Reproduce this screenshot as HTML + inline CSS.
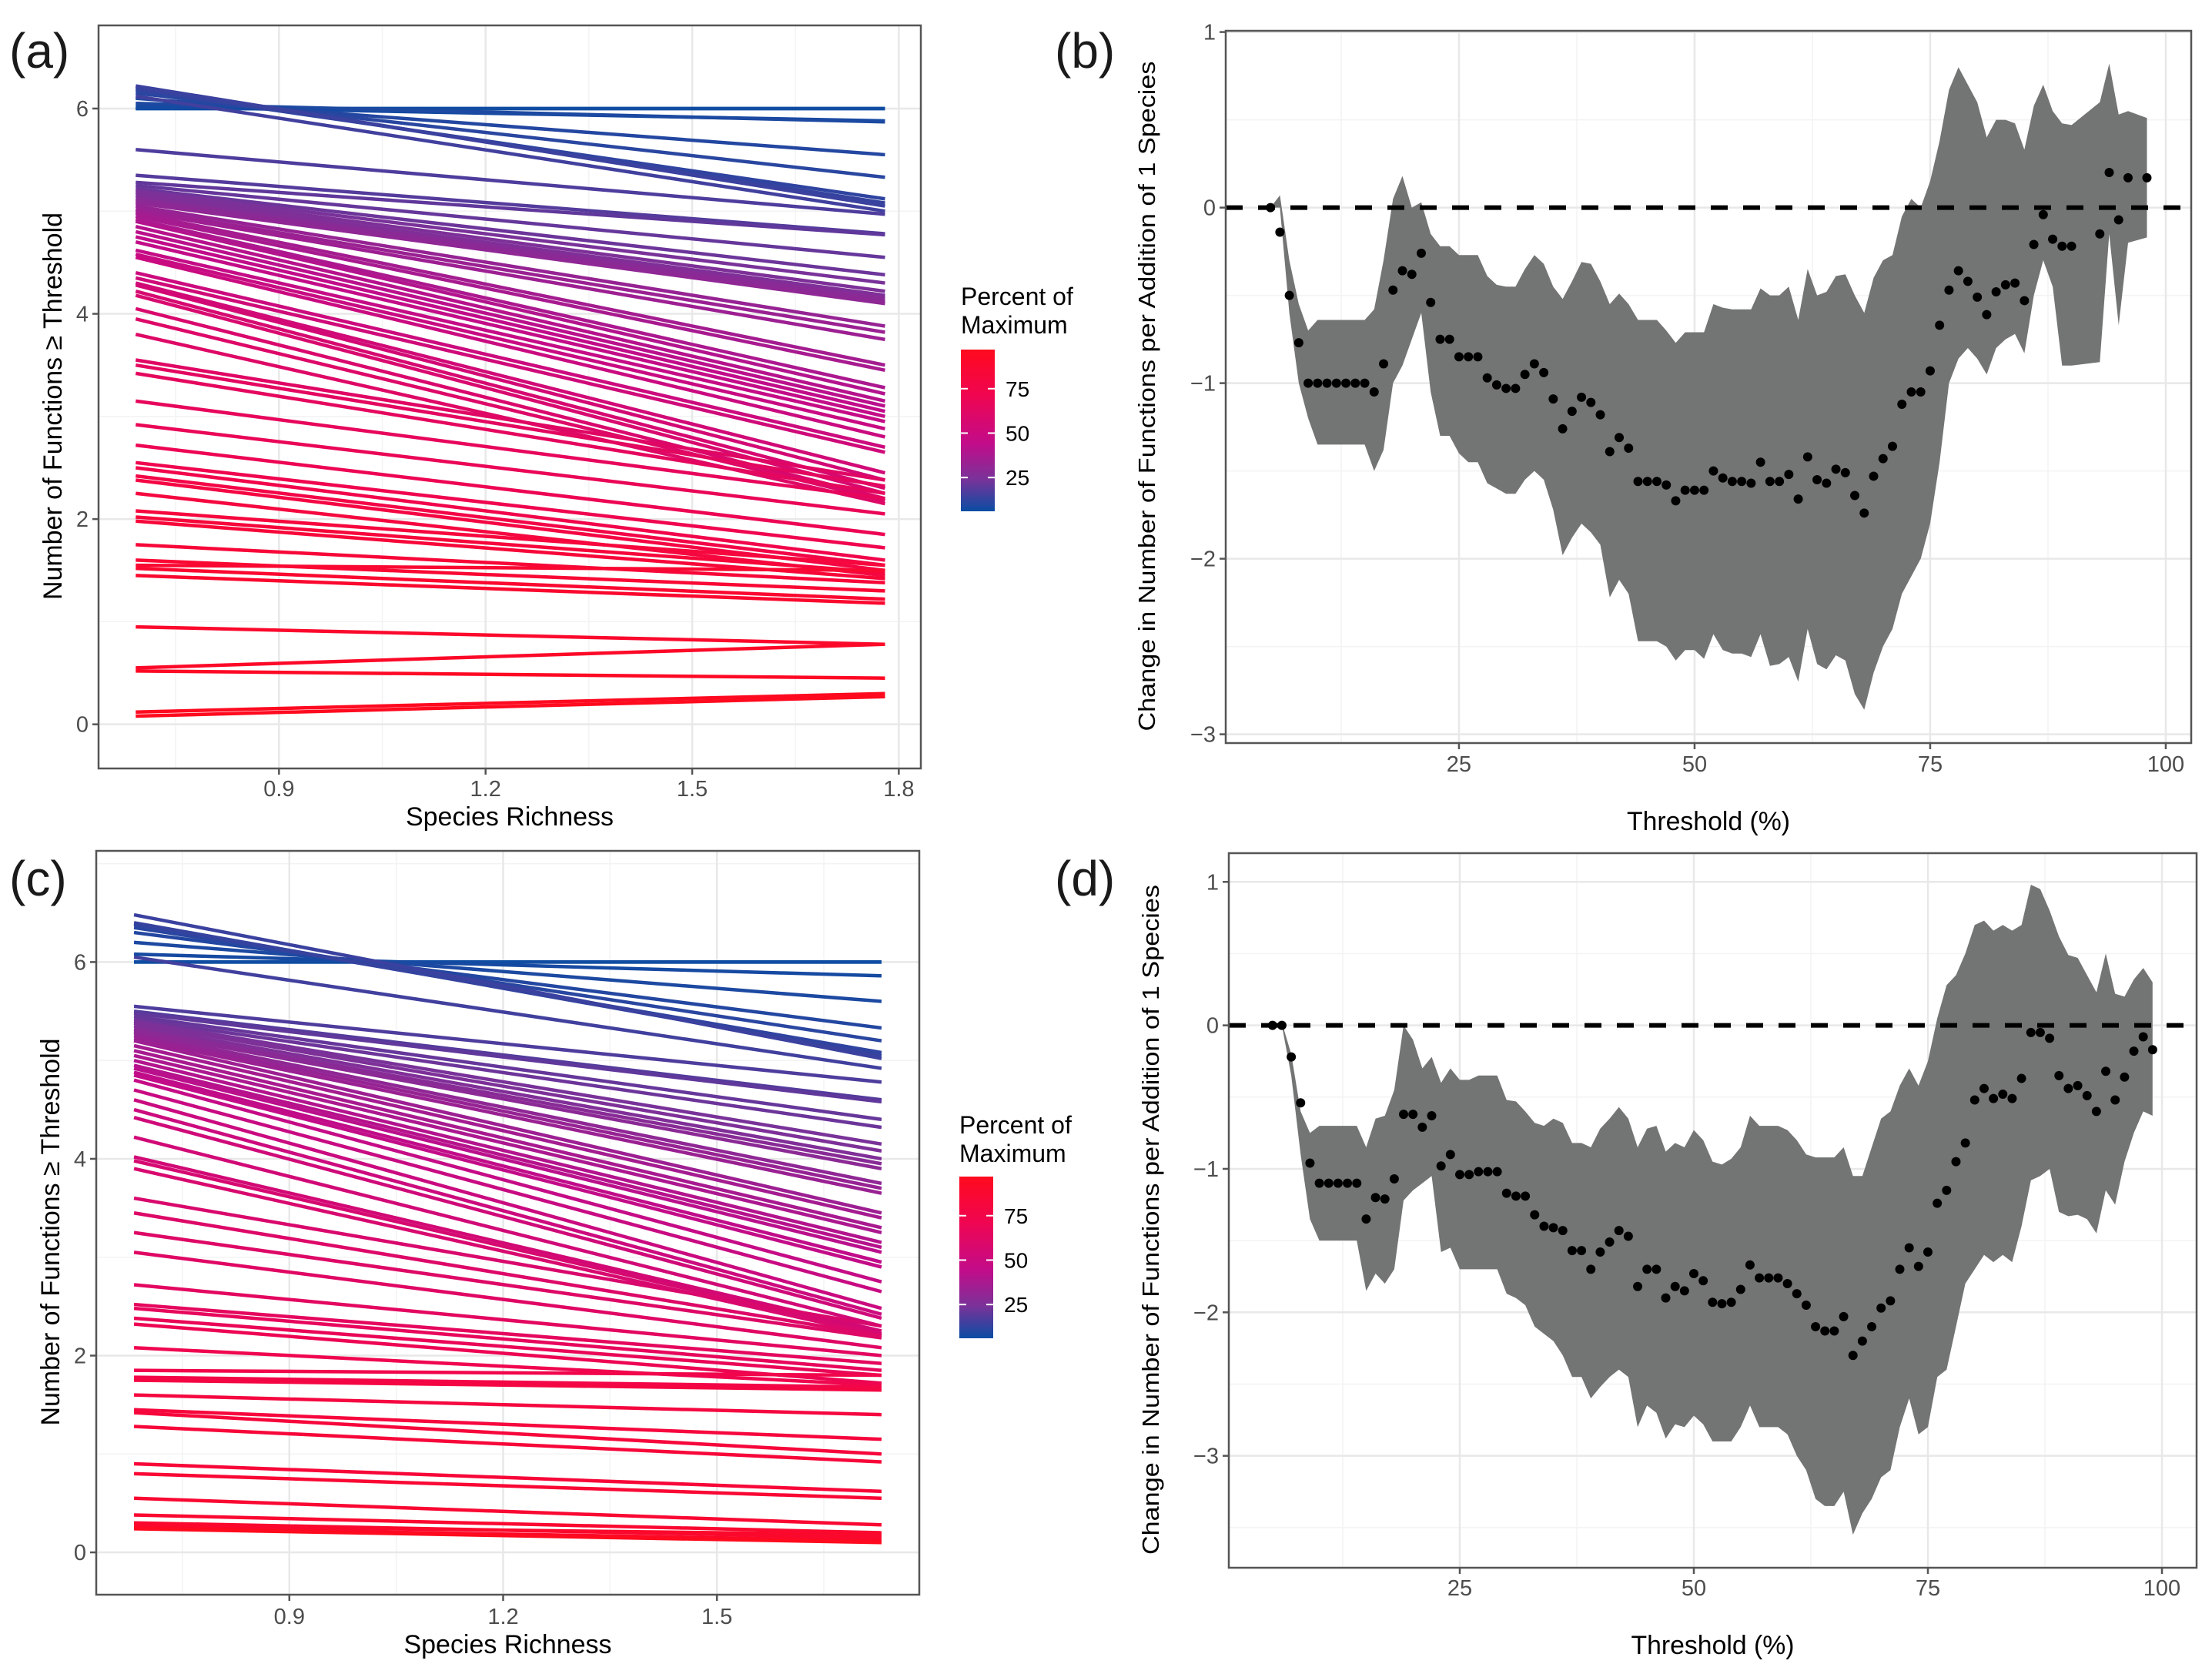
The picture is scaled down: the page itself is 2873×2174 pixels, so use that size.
<!DOCTYPE html>
<html><head><meta charset="utf-8"><style>
html,body{margin:0;padding:0;background:#fff;}
svg{display:block;font-family:"Liberation Sans",Arial,sans-serif;}
</style></head><body>
<svg id="fig" width="2873" height="2174" viewBox="0 0 2873 2174" xmlns="http://www.w3.org/2000/svg">
<defs>
<linearGradient id="cbar" x1="0" y1="1" x2="0" y2="0">
<stop offset="0" stop-color="#0A4DA3"/><stop offset="0.2" stop-color="#7A3299"/><stop offset="0.42" stop-color="#C20C8A"/><stop offset="0.72" stop-color="#F00550"/><stop offset="1" stop-color="#FF0A1E"/>
</linearGradient>
</defs>
</svg>
<script>
// ---------- Panel (a) data ----------
const aStart = [6.00,6.00,6.02,6.05,6.10,6.15,6.18,6.20,6.22,6.12,5.60,5.35,5.28,5.25,5.22,5.20,5.18,5.15,5.12,5.10,5.08,5.05,5.02,5.00,4.98,4.95,4.92,4.90,4.85,4.80,4.75,4.70,4.62,4.58,4.55,4.40,4.35,4.30,4.28,4.22,4.18,4.05,3.95,3.80,3.55,3.50,3.42,3.15,2.92,2.72,2.55,2.50,2.42,2.38,2.25,2.08,2.02,1.98,1.75,1.60,1.55,1.52,1.45,0.95,0.55,0.52,0.12,0.08];
const aEnd = [6.00,6.00,5.88,5.87,5.55,5.33,5.12,5.08,5.05,5.00,4.97,4.78,4.77,4.55,4.38,4.30,4.22,4.18,4.15,4.12,4.10,3.88,3.82,3.75,3.50,3.45,3.28,3.22,3.15,3.10,3.05,3.00,2.95,2.88,2.80,2.70,2.65,2.45,2.38,2.30,2.25,2.20,2.18,2.15,2.38,2.32,2.25,2.20,2.05,1.85,1.72,1.60,1.55,1.50,1.45,1.55,1.48,1.42,1.38,1.30,1.50,1.22,1.18,0.78,0.78,0.45,0.30,0.27];
const aPct = [6,7,8,9,10,11,12,13,14,15,17,18,20,21,22,24,25,26,28,29,30,32,33,34,36,37,38,40,41,42,44,45,46,48,49,50,52,53,54,56,57,58,60,61,62,64,65,66,68,70,72,74,76,78,80,81,82,83,84,86,87,88,89,90,92,94,96,97];
// ---------- Panel (c) data ----------
const cStart = [6.00,6.00,6.08,6.20,6.30,6.35,6.38,6.40,6.48,6.05,5.55,5.50,5.48,5.45,5.42,5.40,5.38,5.35,5.32,5.30,5.28,5.25,5.22,5.20,5.15,5.10,5.05,5.00,4.95,4.92,4.88,4.85,4.80,4.70,4.60,4.50,4.42,4.22,4.02,3.98,3.90,3.60,3.45,3.25,3.05,2.72,2.52,2.48,2.38,2.32,2.08,1.85,1.78,1.75,1.60,1.45,1.42,1.28,0.90,0.80,0.55,0.38,0.30,0.27,0.25,0.24];
const cEnd = [6.00,6.00,5.86,5.60,5.33,5.20,5.08,5.05,5.02,4.92,4.78,4.60,4.58,4.40,4.32,4.15,4.08,4.00,3.95,3.90,3.75,3.70,3.65,3.45,3.40,3.30,3.25,3.15,3.10,3.05,2.95,2.90,2.75,2.65,2.48,2.42,2.38,2.30,2.25,2.22,2.20,2.30,2.20,2.18,2.08,2.00,1.92,1.85,1.80,1.72,1.70,1.80,1.68,1.65,1.40,1.15,1.00,0.92,0.62,0.55,0.28,0.20,0.15,0.18,0.12,0.10];
const cPct = [6,7,8,9,10,11,12,13,14,15,17,18,20,21,22,24,25,26,28,29,30,32,33,34,36,37,38,40,41,42,44,45,46,48,49,50,52,53,54,56,57,58,60,61,62,64,65,66,68,70,72,74,76,78,80,81,82,83,84,86,87,88,89,90,92,97];
// ---------- Panel (b) data ----------
const bThr = [5,6,7,8,9,10,11,12,13,14,15,16,17,18,19,20,21,22,23,24,25,26,27,28,29,30,31,32,33,34,35,36,37,38,39,40,41,42,43,44,45,46,47,48,49,50,51,52,53,54,55,56,57,58,59,60,61,62,63,64,65,66,67,68,69,70,71,72,73,74,75,76,77,78,79,80,81,82,83,84,85,86,87,88,89,90,93,94,95,96,98];
const bMean = [0,-0.14,-0.50,-0.77,-1.0,-1.0,-1.0,-1.0,-1.0,-1.0,-1.0,-1.05,-0.89,-0.47,-0.36,-0.38,-0.26,-0.54,-0.75,-0.75,-0.85,-0.85,-0.85,-0.97,-1.01,-1.03,-1.03,-0.95,-0.89,-0.94,-1.09,-1.26,-1.16,-1.08,-1.11,-1.18,-1.39,-1.31,-1.37,-1.56,-1.56,-1.56,-1.58,-1.67,-1.61,-1.61,-1.61,-1.50,-1.54,-1.56,-1.56,-1.57,-1.45,-1.56,-1.56,-1.52,-1.66,-1.42,-1.55,-1.57,-1.49,-1.51,-1.64,-1.74,-1.53,-1.43,-1.36,-1.12,-1.05,-1.05,-0.93,-0.67,-0.47,-0.36,-0.42,-0.51,-0.61,-0.48,-0.44,-0.43,-0.53,-0.21,-0.04,-0.18,-0.22,-0.22,-0.15,0.20,-0.07,0.17,0.17];
const bHi = [0,0.07,-0.30,-0.55,-0.70,-0.64,-0.64,-0.64,-0.64,-0.64,-0.64,-0.58,-0.30,0.05,0.18,0.0,0.03,-0.15,-0.22,-0.22,-0.27,-0.27,-0.27,-0.39,-0.44,-0.45,-0.45,-0.35,-0.27,-0.32,-0.45,-0.52,-0.42,-0.31,-0.32,-0.42,-0.55,-0.49,-0.55,-0.64,-0.64,-0.64,-0.70,-0.77,-0.71,-0.71,-0.71,-0.55,-0.57,-0.58,-0.58,-0.58,-0.46,-0.50,-0.50,-0.45,-0.64,-0.35,-0.50,-0.48,-0.39,-0.38,-0.50,-0.60,-0.40,-0.30,-0.27,-0.05,0.05,0.0,0.15,0.38,0.67,0.80,0.70,0.60,0.40,0.50,0.50,0.48,0.33,0.58,0.70,0.55,0.48,0.47,0.60,0.82,0.53,0.55,0.51];
const bLo = [0,0.0,-0.60,-1.00,-1.20,-1.35,-1.35,-1.35,-1.35,-1.35,-1.35,-1.50,-1.38,-1.00,-0.90,-0.75,-0.60,-1.05,-1.30,-1.30,-1.40,-1.45,-1.45,-1.57,-1.60,-1.63,-1.63,-1.55,-1.50,-1.55,-1.72,-1.98,-1.88,-1.80,-1.85,-1.92,-2.22,-2.12,-2.20,-2.47,-2.47,-2.47,-2.50,-2.58,-2.52,-2.52,-2.57,-2.43,-2.52,-2.54,-2.54,-2.56,-2.43,-2.61,-2.60,-2.56,-2.70,-2.40,-2.60,-2.63,-2.55,-2.58,-2.77,-2.86,-2.65,-2.50,-2.40,-2.20,-2.10,-2.00,-1.80,-1.45,-1.00,-0.86,-0.80,-0.86,-0.95,-0.80,-0.75,-0.72,-0.83,-0.50,-0.30,-0.45,-0.90,-0.90,-0.88,-0.15,-0.67,-0.20,-0.17];
// ---------- Panel (d) data ----------
const dThr = [5,6,7,8,9,10,11,12,13,14,15,16,17,18,19,20,21,22,23,24,25,26,27,28,29,30,31,32,33,34,35,36,37,38,39,40,41,42,43,44,45,46,47,48,49,50,51,52,53,54,55,56,57,58,59,60,61,62,63,64,65,66,67,68,69,70,71,72,73,74,75,76,77,78,79,80,81,82,83,84,85,86,87,88,89,90,91,92,93,94,95,96,97,98,99];
const dMean = [0,0,-0.22,-0.54,-0.96,-1.1,-1.1,-1.1,-1.1,-1.1,-1.35,-1.2,-1.21,-1.07,-0.62,-0.62,-0.71,-0.63,-0.98,-0.90,-1.04,-1.04,-1.02,-1.02,-1.02,-1.17,-1.19,-1.19,-1.32,-1.40,-1.41,-1.43,-1.57,-1.57,-1.70,-1.58,-1.51,-1.43,-1.47,-1.82,-1.70,-1.70,-1.90,-1.82,-1.85,-1.73,-1.78,-1.93,-1.94,-1.93,-1.84,-1.67,-1.76,-1.76,-1.76,-1.80,-1.87,-1.95,-2.10,-2.13,-2.13,-2.03,-2.30,-2.20,-2.10,-1.97,-1.92,-1.70,-1.55,-1.68,-1.58,-1.24,-1.15,-0.95,-0.82,-0.52,-0.44,-0.51,-0.48,-0.51,-0.37,-0.05,-0.05,-0.09,-0.35,-0.44,-0.42,-0.49,-0.60,-0.32,-0.52,-0.36,-0.18,-0.08,-0.17];
const dHi = [0,0.02,-0.20,-0.60,-0.75,-0.70,-0.70,-0.70,-0.70,-0.70,-0.85,-0.65,-0.63,-0.45,0.0,-0.10,-0.30,-0.22,-0.40,-0.30,-0.38,-0.38,-0.35,-0.35,-0.35,-0.52,-0.53,-0.60,-0.68,-0.70,-0.65,-0.68,-0.82,-0.82,-0.85,-0.72,-0.65,-0.57,-0.65,-0.85,-0.72,-0.70,-0.88,-0.82,-0.85,-0.73,-0.80,-0.95,-0.97,-0.93,-0.85,-0.63,-0.70,-0.70,-0.70,-0.73,-0.80,-0.90,-0.92,-0.92,-0.92,-0.85,-1.05,-1.05,-0.85,-0.65,-0.60,-0.42,-0.30,-0.42,-0.25,0.05,0.28,0.35,0.50,0.70,0.73,0.66,0.70,0.66,0.70,0.98,0.95,0.80,0.62,0.49,0.47,0.35,0.23,0.50,0.22,0.20,0.32,0.40,0.30];
const dLo = [0,0,-0.35,-0.90,-1.35,-1.50,-1.50,-1.50,-1.50,-1.50,-1.85,-1.73,-1.80,-1.70,-1.22,-1.15,-1.10,-1.05,-1.58,-1.55,-1.70,-1.70,-1.70,-1.70,-1.70,-1.87,-1.90,-1.95,-2.10,-2.15,-2.20,-2.30,-2.45,-2.45,-2.60,-2.52,-2.45,-2.40,-2.45,-2.80,-2.65,-2.70,-2.88,-2.78,-2.80,-2.72,-2.78,-2.90,-2.90,-2.90,-2.80,-2.65,-2.80,-2.80,-2.80,-2.85,-3.00,-3.10,-3.30,-3.35,-3.35,-3.25,-3.55,-3.40,-3.30,-3.15,-3.10,-2.80,-2.60,-2.85,-2.80,-2.45,-2.40,-2.10,-1.80,-1.70,-1.60,-1.65,-1.60,-1.65,-1.40,-1.08,-1.05,-1.00,-1.30,-1.33,-1.32,-1.35,-1.45,-1.15,-1.25,-0.95,-0.75,-0.60,-0.63];
// ---------- Tick labels ----------
const lineXTicks = ["0.9","1.2","1.5","1.8"];
const lineYTicks = ["0","2","4","6"];
const thrXTicks = ["25","50","75","100"];
const thrYTicks = ["1","0","-1","-2","-3"];
const legendTicks = ["25","50","75"];

const NS="http://www.w3.org/2000/svg";
const svg=document.getElementById('fig');
function mk(tag,attrs,parent){const e=document.createElementNS(NS,tag);for(const k in attrs)e.setAttribute(k,attrs[k]);(parent||svg).appendChild(e);return e;}
function scale(d0,d1,r0,r1){return v=>r0+(v-d0)/(d1-d0)*(r1-r0);}
const stops=[[0,[10,77,163]],[0.2,[122,50,153]],[0.42,[194,12,138]],[0.72,[240,5,80]],[1,[255,10,30]]];
function colorFor(p,pmin,pmax){let t=(p-pmin)/(pmax-pmin);t=Math.max(0,Math.min(1,t));
 for(let i=1;i<stops.length;i++){if(t<=stops[i][0]){const a=stops[i-1],b=stops[i];const f=(t-a[0])/(b[0]-a[0]);
 const c=a[1].map((v,j)=>Math.round(v+(b[1][j]-v)*f));return `rgb(${c[0]},${c[1]},${c[2]})`;}}return 'rgb(255,10,30)';}

function frame(g,box,X,Y,xMaj,xMin,yMaj,yMin){
 mk('rect',{x:box.l,y:box.t,width:box.r-box.l,height:box.b-box.t,fill:'#fff'},g);
 xMin.forEach(v=>{const l=mk('line',{x1:X(v),x2:X(v),y1:box.t,y2:box.b,stroke:'#f3f3f3','stroke-width':1.5},g);});
 yMin.forEach(v=>{const l=mk('line',{x1:box.l,x2:box.r,y1:Y(v),y2:Y(v),stroke:'#f3f3f3','stroke-width':1.5},g);});
 xMaj.forEach(v=>{const l=mk('line',{x1:X(v),x2:X(v),y1:box.t,y2:box.b,stroke:'#e8e8e8','stroke-width':2.5},g);});
 yMaj.forEach(v=>{const l=mk('line',{x1:box.l,x2:box.r,y1:Y(v),y2:Y(v),stroke:'#e8e8e8','stroke-width':2.5},g);});
}
function borderAndTicks(g,box,X,Y,xt,yt,xLabY){
 const r=mk('rect',{x:box.l,y:box.t,width:box.r-box.l,height:box.b-box.t,fill:'none',stroke:'#555','stroke-width':2.5},g);
 
 xt.forEach(s=>{const x=X(parseFloat(s));mk('line',{x1:x,x2:x,y1:box.b,y2:box.b+8,stroke:'#555','stroke-width':2.5},g);
  const t=mk('text',{x:x,y:xLabY,'font-size':29,fill:'#4d4d4d','text-anchor':'middle'},g);t.textContent=s;
  });
 yt.forEach(s=>{const y=Y(parseFloat(s));mk('line',{x1:box.l-8,x2:box.l,y1:y,y2:y,stroke:'#555','stroke-width':2.5},g);
  const t=mk('text',{x:box.l-13,y:y+10,'font-size':29,fill:'#4d4d4d','text-anchor':'end'},g);t.textContent=s.replace('-','\u2212');
  });
}
function title(g,txt,x,y,len,rot,name,size){
 const t=mk('text',{x:x,y:y,'font-size':size||34,fill:'#000','text-anchor':'middle',textLength:len,lengthAdjust:'spacingAndGlyphs'},g);
 if(rot)t.setAttribute('transform',`rotate(-90 ${x} ${y})`);
 t.textContent=txt;return t;
}
function panelLabel(txt,x,y,name){const t=mk('text',{x:x,y:y,'font-size':64,fill:'#1a1a1a'});t.textContent=txt;
 }

function linePanel(cfg){
 const g=mk('g',{});
 const box=cfg.box;const X=scale(cfg.xd[0],cfg.xd[1],box.l,box.r);const Y=scale(cfg.yd[0],cfg.yd[1],box.b,box.t);
 frame(g,box,X,Y,cfg.xMaj,[0.75,1.05,1.35,1.65],[0,2,4,6],cfg.yMin);
 const pmin=Math.min(...cfg.pct),pmax=Math.max(...cfg.pct);
 const n=Math.min(cfg.s.length,cfg.e.length,cfg.pct.length);
 for(let i=0;i<n;i++){
  const l=mk('line',{x1:X(cfg.x0),y1:Y(cfg.s[i]),x2:X(cfg.x1),y2:Y(cfg.e[i]),stroke:colorFor(cfg.pct[i],pmin,pmax),'stroke-width':4.5},g);
  
  
 }
 borderAndTicks(g,box,X,Y,cfg.xt,lineYTicks,cfg.xLabY);
 title(g,'Species Richness',(box.l+box.r)/2,cfg.xTitleY,270,false,'x-axis-title');
 title(g,'Number of Functions \u2265 Threshold',cfg.yTitleX,(box.t+box.b)/2+12,503,true,'y-axis-title');
 const lg=mk('g',{},g);
 const L=cfg.leg;
 const t1=mk('text',{x:L.x,y:L.ty,'font-size':32,fill:'#000'},lg);t1.textContent='Percent of';
 const t2=mk('text',{x:L.x,y:L.ty+37,'font-size':32,fill:'#000'},lg);t2.textContent='Maximum';
 const cb=mk('rect',{x:L.x,y:L.top,width:44,height:L.bot-L.top,fill:'url(#cbar)'},lg);
 const P=scale(pmin,pmax,L.bot,L.top);
 legendTicks.forEach(s=>{const y=P(parseFloat(s));
  mk('line',{x1:L.x,x2:L.x+9,y1:y,y2:y,stroke:'#fff','stroke-width':2},lg);mk('line',{x1:L.x+35,x2:L.x+44,y1:y,y2:y,stroke:'#fff','stroke-width':2},lg);
  const t=mk('text',{x:L.x+58,y:y+10,'font-size':28,fill:'#000'},lg);t.textContent=s;});
}

function thrPanel(cfg){
 const g=mk('g',{});
 const box=cfg.box;const X=scale(cfg.xd[0],cfg.xd[1],box.l,box.r);const Y=scale(cfg.yd[0],cfg.yd[1],box.b,box.t);
 frame(g,box,X,Y,[25,50,75,100],[12.5,37.5,62.5,87.5],[1,0,-1,-2,-3],cfg.yMin);
 let d='';cfg.thr.forEach((t,i)=>{d+=(i?'L':'M')+X(t).toFixed(1)+','+Y(cfg.hi[i]).toFixed(1);});
 for(let i=cfg.thr.length-1;i>=0;i--)d+='L'+X(cfg.thr[i]).toFixed(1)+','+Y(cfg.lo[i]).toFixed(1);
 const rib=mk('path',{d:d+'Z',fill:'#737574'},g);
 const z=mk('line',{x1:box.l,x2:box.r,y1:Y(0),y2:Y(0),stroke:'#000','stroke-width':6,'stroke-dasharray':'22 20'},g);
 
 cfg.thr.forEach((t,i)=>{const c=mk('circle',{cx:X(t),cy:Y(cfg.mean[i]),r:6,fill:'#000'},g);
  
  });
 borderAndTicks(g,box,X,Y,thrXTicks,thrYTicks,cfg.xLabY);
 title(g,'Threshold (%)',(box.l+box.r)/2,cfg.xTitleY,212,false,'x-axis-title');
 title(g,'Change in Number of Functions per Addition of 1 Species',cfg.yTitleX,(box.t+box.b)/2+12,870,true,'y-axis-title',31);
}

linePanel({name:'panel-a',box:{l:128,r:1196,t:33,b:998},xd:[0.638,1.832],yd:[-0.43,6.81],x0:0.692,x1:1.78,
 s:aStart,e:aEnd,pct:aPct,xMaj:[0.9,1.2,1.5,1.8],yMin:[1,3,5],xt:lineXTicks,xLabY:1034,xTitleY:1072,yTitleX:80,
 leg:{x:1248,ty:396,top:454,bot:664}});
linePanel({name:'panel-c',box:{l:125,r:1194,t:1105,b:2071},xd:[0.629,1.784],yd:[-0.43,7.13],x0:0.682,x1:1.731,
 s:cStart,e:cEnd,pct:cPct,xMaj:[0.9,1.2,1.5],yMin:[1,3,5,7],xt:lineXTicks.slice(0,3),xLabY:2109,xTitleY:2147,yTitleX:77,
 leg:{x:1246,ty:1472,top:1528,bot:1738}});
thrPanel({name:'panel-b',box:{l:1592,r:2846,t:40,b:965},xd:[0.25,102.7],yd:[-3.05,1.007],thr:bThr,mean:bMean,hi:bHi,lo:bLo,
 yMin:[0.5,-0.5,-1.5,-2.5],xLabY:1002,xTitleY:1078,yTitleX:1500});
thrPanel({name:'panel-d',box:{l:1596,r:2853,t:1108,b:2036},xd:[0.33,103.7],yd:[-3.78,1.20],thr:dThr,mean:dMean,hi:dHi,lo:dLo,
 yMin:[0.5,-0.5,-1.5,-2.5,-3.5],xLabY:2072,xTitleY:2148,yTitleX:1505});

panelLabel('(a)',12,88,'panel-label-a');
panelLabel('(b)',1370,88,'panel-label-b');
panelLabel('(c)',12,1163,'panel-label-c');
panelLabel('(d)',1370,1163,'panel-label-d');
</script>
</body></html>
